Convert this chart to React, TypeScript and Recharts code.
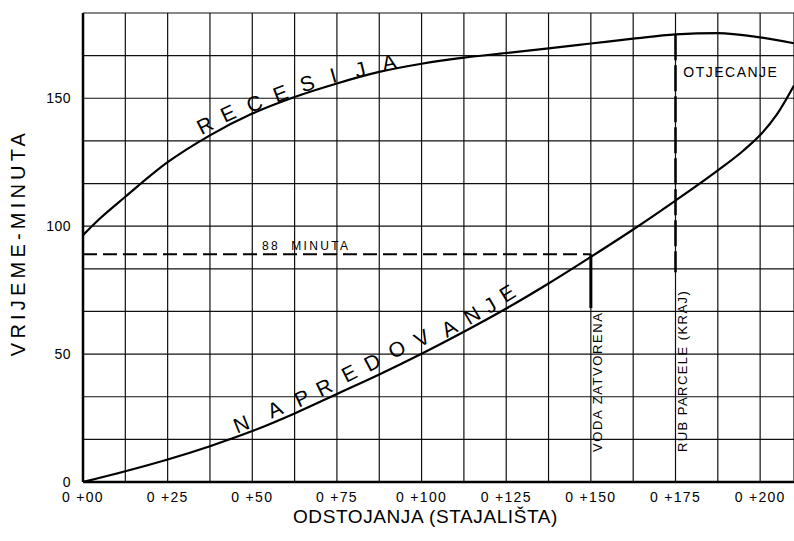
import React from 'react';
import { LineChart, Line, XAxis, YAxis, CartesianGrid, ReferenceLine, ReferenceDot, Label } from 'recharts';

// Grid / tick values
const xGridValues = [0, 12.5, 25, 37.5, 50, 62.5, 75, 87.5, 100, 112.5, 125, 137.5, 150, 162.5, 175, 187.5, 200];
const xLabelledValues = [0, 25, 50, 75, 100, 125, 150, 175, 200];
const xTickLabels = ['0 +00', '0 +25', '0 +50', '0 +75', '0 +100', '0 +125', '0 +150', '0 +175', '0 +200'];
const yGridValues = [0, 16.667, 33.333, 50, 66.667, 83.333, 100, 116.667, 133.333, 150, 166.667, 183.333];
const yLabelledValues = [0, 50, 100, 150];
const yTickLabels = ['0', '50', '100', '150'];

// Recession curve (RECESIJA)
const recessionX = [0, 5, 12.5, 25, 37.5, 50, 62.5, 75, 87.5, 100, 112.5, 125, 137.5, 150, 162.5, 175, 187.5, 200, 210];
const recessionY = [96.5, 103, 111.5, 125, 135.5, 144, 150.5, 155.8, 160.3, 163.5, 165.9, 167.7, 169.5, 171.4, 173.3, 175.0, 175.5, 173.8, 171.5];

// Advance curve (NAPREDOVANJE)
const advanceX = [0, 12.5, 25, 37.5, 50, 62.5, 75, 87.5, 100, 112.5, 125, 137.5, 150, 162.5, 175, 187.5, 195, 200, 205, 210];
const advanceY = [0, 4.2, 8.8, 14.0, 19.9, 26.8, 34.4, 42.0, 50.1, 58.7, 67.8, 77.6, 88.0, 98.7, 110.0, 121.8, 129.5, 135.6, 143.8, 155];

// Markers
const cutoffMinutes = 89;
const cutoffStation = 150;
const cutoffLow = 68;
const fieldEndStation = 175;
const fieldEndTop = 175.0;
const fieldEndLow = 82;

// Curve lettering
const recessionLetters = [
  { ch: 'R', x: 36.0, y: 139.5, a: -27 },
  { ch: 'E', x: 42.8, y: 144.1, a: -25 },
  { ch: 'C', x: 50.6, y: 148.0, a: -23 },
  { ch: 'E', x: 58.3, y: 152.0, a: -21 },
  { ch: 'S', x: 66.2, y: 155.9, a: -18 },
  { ch: 'I', x: 73.9, y: 159.0, a: -16 },
  { ch: 'J', x: 81.8, y: 161.3, a: -14 },
  { ch: 'A', x: 90.4, y: 164.1, a: -12 },
];
const advanceLetters = [
  { ch: 'N', x: 46.7, y: 22.7, a: -22 },
  { ch: 'A', x: 56.7, y: 28.5, a: -24 },
  { ch: 'P', x: 64.7, y: 32.8, a: -25 },
  { ch: 'R', x: 71.2, y: 37.1, a: -26 },
  { ch: 'E', x: 78.6, y: 42.6, a: -27 },
  { ch: 'D', x: 85.4, y: 46.9, a: -28 },
  { ch: 'O', x: 92.7, y: 52.0, a: -29 },
  { ch: 'V', x: 100.1, y: 56.3, a: -30 },
  { ch: 'A', x: 108.1, y: 60.2, a: -30 },
  { ch: 'N', x: 114.9, y: 65.2, a: -31 },
  { ch: 'J', x: 120.2, y: 69.1, a: -31 },
  { ch: 'E', x: 125.3, y: 73.8, a: -32 },
];

const recessionData = recessionX.map((x, i) => ({ x, y: recessionY[i] }));
const advanceData = advanceX.map((x, i) => ({ x, y: advanceY[i] }));

const FONT = '"Liberation Sans", Arial, sans-serif';

const fmtX = (v: number) => {
  const i = xLabelledValues.indexOf(v);
  return i >= 0 ? xTickLabels[i] : '';
};
const fmtY = (v: number) => {
  const i = yLabelledValues.findIndex((t) => Math.abs(t - v) < 0.01);
  return i >= 0 ? yTickLabels[i] : '';
};

const letterShape = (ch: string, a: number) => (p: any) => (
  <text
    x={p.cx}
    y={p.cy}
    textAnchor="middle"
    dominantBaseline="central"
    transform={`rotate(${a} ${p.cx} ${p.cy})`}
    style={{ fontFamily: FONT, fontSize: 21 }}
    fill="#000"
  >
    {ch}
  </text>
);

const verticalText = (txt: string, size: number, spacing: number) => (p: any) => (
  <text
    x={p.cx}
    y={p.cy}
    textAnchor="start"
    dominantBaseline="central"
    transform={`rotate(-90 ${p.cx} ${p.cy})`}
    style={{ fontFamily: FONT, fontSize: size, letterSpacing: spacing }}
    fill="#000"
  >
    {txt}
  </text>
);

const plainText = (txt: string, size: number, spacing: number) => (p: any) => (
  <text x={p.cx} y={p.cy} textAnchor="start" style={{ fontFamily: FONT, fontSize: size, letterSpacing: spacing }} fill="#000">
    {txt}
  </text>
);

export default function App() {
  return (
    <div style={{ position: 'absolute', left: 0, top: 0, width: 794, height: 541, background: '#fff' }}>
      <LineChart width={794} height={541} margin={{ top: 13, right: 0, bottom: 0, left: 0 }}>
        <CartesianGrid stroke="#111" strokeWidth={1.2} />
        <XAxis
          type="number"
          dataKey="x"
          domain={[0, 210]}
          ticks={xGridValues}
          interval={0}
          tickFormatter={fmtX}
          tickLine={false}
          tickSize={0}
          tickMargin={10}
          height={59}
          axisLine={{ stroke: '#000', strokeWidth: 2.5 }}
          tick={{ fill: '#000', fontSize: 14, fontFamily: FONT, letterSpacing: 1.3 }}
          allowDataOverflow
        >
          <Label
            content={(p: any) => {
              const vb = p.viewBox;
              return (
                <text
                  x={vb.x + vb.width / 2 - 13}
                  y={vb.y + 41}
                  textAnchor="middle"
                  style={{ fontFamily: FONT, fontSize: 19, letterSpacing: 0.6 }}
                  fill="#000"
                >
                  ODSTOJANJA (STAJALIŠTA)
                </text>
              );
            }}
          />
        </XAxis>
        <YAxis
          type="number"
          dataKey="y"
          domain={[0, 183.333]}
          ticks={yGridValues}
          interval={0}
          tickFormatter={fmtY}
          tickLine={false}
          tickSize={0}
          tickMargin={12}
          width={83}
          axisLine={{ stroke: '#000', strokeWidth: 2.5 }}
          tick={{ fill: '#000', fontSize: 14, fontFamily: FONT, letterSpacing: 0.5 }}
          allowDataOverflow
        >
          <Label
            content={(p: any) => {
              const vb = p.viewBox;
              const cx = vb.x + 18;
              const cy = vb.y + vb.height / 2 - 5;
              return (
                <text
                  x={cx}
                  y={cy}
                  textAnchor="middle"
                  dominantBaseline="central"
                  transform={`rotate(-90 ${cx} ${cy})`}
                  style={{ fontFamily: FONT, fontSize: 20, letterSpacing: 4.2 }}
                  fill="#000"
                >
                  VRIJEME-MINUTA
                </text>
              );
            }}
          />
        </YAxis>

        <ReferenceLine
          segment={[{ x: 0, y: cutoffMinutes }, { x: cutoffStation, y: cutoffMinutes }]}
          stroke="#000"
          strokeWidth={2}
          strokeDasharray="14 6"
        />
        <ReferenceLine
          segment={[{ x: cutoffStation, y: cutoffMinutes }, { x: cutoffStation, y: cutoffLow }]}
          stroke="#000"
          strokeWidth={3}
        />
        <ReferenceLine
          segment={[{ x: fieldEndStation, y: fieldEndTop }, { x: fieldEndStation, y: fieldEndLow }]}
          stroke="#000"
          strokeWidth={2.5}
          strokeDasharray="26 5"
        />

        <Line
          data={recessionData}
          dataKey="y"
          type="monotone"
          stroke="#000"
          strokeWidth={2.2}
          dot={false}
          isAnimationActive={false}
        />
        <Line
          data={advanceData}
          dataKey="y"
          type="monotone"
          stroke="#000"
          strokeWidth={2.2}
          dot={false}
          isAnimationActive={false}
        />

        {recessionLetters.map((l, i) => (
          <ReferenceDot key={'r' + i} x={l.x} y={l.y} r={0} shape={letterShape(l.ch, l.a)} />
        ))}
        {advanceLetters.map((l, i) => (
          <ReferenceDot key={'a' + i} x={l.x} y={l.y} r={0} shape={letterShape(l.ch, l.a)} />
        ))}

        <ReferenceDot x={52.9} y={90.6} r={0} shape={plainText('88\u00a0\u00a0MINUTA', 12, 2.3)} />
        <ReferenceDot x={177.3} y={158.2} r={0} shape={plainText('OTJECANJE', 14, 1.5)} />
        <ReferenceDot x={152.1} y={11.7} r={0} shape={verticalText('VODA ZATVORENA', 13, 1.6)} />
        <ReferenceDot x={177.0} y={11.7} r={0} shape={verticalText('RUB PARCELE (KRAJ)', 13, 1.45)} />
      </LineChart>
    </div>
  );
}
